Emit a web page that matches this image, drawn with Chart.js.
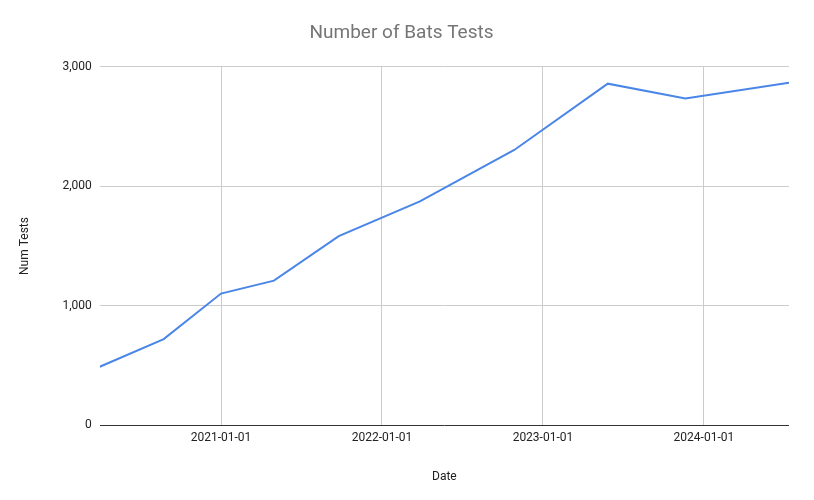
<!DOCTYPE html>
<html>
<head>
<meta charset="utf-8">
<script src="https://cdn.jsdelivr.net/npm/chart.js@4"></script>
<style>
  body { margin: 0; background: #fff; }
  #wrap { width: 814px; height: 500px; }
</style>
</head>
<body>
<div id="wrap"><canvas id="batsChart"></canvas></div>
<script>
  // Values
  const dates = ['2020-04-01', '2020-08-24', '2021-01-01', '2021-05-01', '2021-09-25',
                 '2022-03-28', '2022-10-28', '2023-05-28', '2023-11-20', '2024-07-12'];
  const numTests = [489, 721, 1102, 1210, 1583, 1873, 2304, 2859, 2735, 2867];
  const yearTicks = ['2021-01-01', '2022-01-01', '2023-01-01', '2024-01-01'];

  const toMs = d => Date.parse(d + 'T00:00:00Z');
  const fmt = ms => new Date(ms).toISOString().slice(0, 10);

  const points = dates.map((d, i) => ({ x: toMs(d), y: numTests[i] }));

  const ctx = document.getElementById('batsChart').getContext('2d');
  new Chart(ctx, {
    type: 'line',
    data: {
      datasets: [{
        label: 'Num Tests',
        data: points,
        borderColor: '#4a86e8',
        borderWidth: 2,
        pointRadius: 0,
        tension: 0,
        fill: false
      }]
    },
    options: {
      responsive: true,
      maintainAspectRatio: false,
      animation: false,
      layout: { padding: { left: 14, right: 25, top: 10, bottom: 12 } },
      plugins: {
        legend: { display: false },
        tooltip: { enabled: false },
        title: {
          display: true,
          text: 'Number of Bats Tests',
          color: '#757575',
          font: { family: 'Roboto', size: 19, weight: 'normal' },
          padding: { top: 12, bottom: 22 }
        }
      },
      scales: {
        x: {
          type: 'linear',
          min: toMs(dates[0]),
          max: toMs(dates[dates.length - 1]),
          afterBuildTicks: axis => { axis.ticks = yearTicks.map(d => ({ value: toMs(d) })); },
          ticks: {
            callback: v => fmt(v),
            color: '#222',
            font: { family: 'Roboto', size: 12 },
            maxRotation: 0,
            padding: 6
          },
          grid: { color: '#cccccc', drawTicks: false },
          border: { display: false },
          title: {
            display: true,
            text: 'Date',
            color: '#222',
            font: { family: 'Roboto', size: 12 },
            padding: { top: 18 }
          }
        },
        y: {
          min: 0,
          max: 3000,
          ticks: {
            stepSize: 1000,
            color: '#222',
            font: { family: 'Roboto', size: 12 },
            padding: 8
          },
          grid: {
            color: ctx => ctx.tick.value === 0 ? '#333333' : '#cccccc',
            drawTicks: false
          },
          border: { display: false },
          title: {
            display: true,
            text: 'Num Tests',
            color: '#222',
            font: { family: 'Roboto', size: 12 },
            padding: { bottom: 22 }
          }
        }
      }
    }
  });
</script>
</body>
</html>
